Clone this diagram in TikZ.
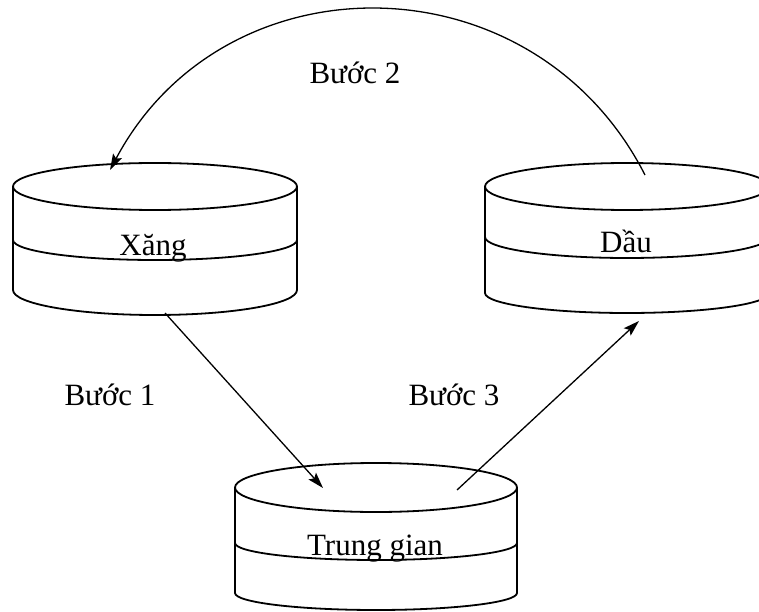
\documentclass[tikz,border=0pt]{standalone}
\usepackage{fontspec}
\setmainfont{Liberation Serif}
\usetikzlibrary{arrows.meta}
\begin{document}
\begin{tikzpicture}[x=1pt,y=1pt,
  drum/.style={line width=1.8pt, black},
  link/.style={line width=1.3pt, black, -{Stealth[length=16pt,width=10pt,inset=3pt]}},
  lbl/.style={font=\fontsize{31}{36}\selectfont, inner sep=0pt, anchor=base}]
\useasboundingbox (0,0) rectangle (759,611);
% Xang drum
\draw[drum] (155,424.5) ellipse[x radius=142, y radius=23.5];
\draw[drum] (13,424.5) -- (13,321) arc[start angle=180, end angle=360, x radius=142, y radius=25] -- (297,424.5);
\draw[drum] (13,371) arc[start angle=180, end angle=360, x radius=142, y radius=20];
% Dau drum
\draw[drum] (627,424.5) ellipse[x radius=142, y radius=23.5];
\draw[drum] (485,424.5) -- (485,318) arc[start angle=180, end angle=360, x radius=142, y radius=20] -- (769,424.5);
\draw[drum] (485,374) arc[start angle=180, end angle=360, x radius=142, y radius=21];
% Trung gian drum
\draw[drum] (376,123.5) ellipse[x radius=141, y radius=24.5];
\draw[drum] (235,123.5) -- (235,18) arc[start angle=180, end angle=360, x radius=141, y radius=17] -- (517,123.5);
\draw[drum] (235,68) arc[start angle=180, end angle=360, x radius=141, y radius=17];
% labels
\node[lbl] (xang) at (153,355) {Xăng};
\node[lbl] (dau) at (626,358) {Dầu};
\node[lbl] (tg) at (375,56) {Trung gian};
\node[lbl] (b1) at (110,206) {Bước 1};
\node[lbl] (b2) at (355,527) {Bước 2};
\node[lbl] (b3) at (454,206) {Bước 3};
% connector ends
\coordinate (x1) at (165,298);
\coordinate (t1) at (323,123);
\coordinate (t3) at (457,121);
\coordinate (d3) at (639,290);
\coordinate (d2) at (645,436);
\coordinate (x2) at (110,441);
\draw[link] (x1) -- (t1);
\draw[link] (t3) -- (d3);
\draw[link] (d2) to[out=117, in=62, looseness=1.17] (x2);
\end{tikzpicture}
\end{document}
